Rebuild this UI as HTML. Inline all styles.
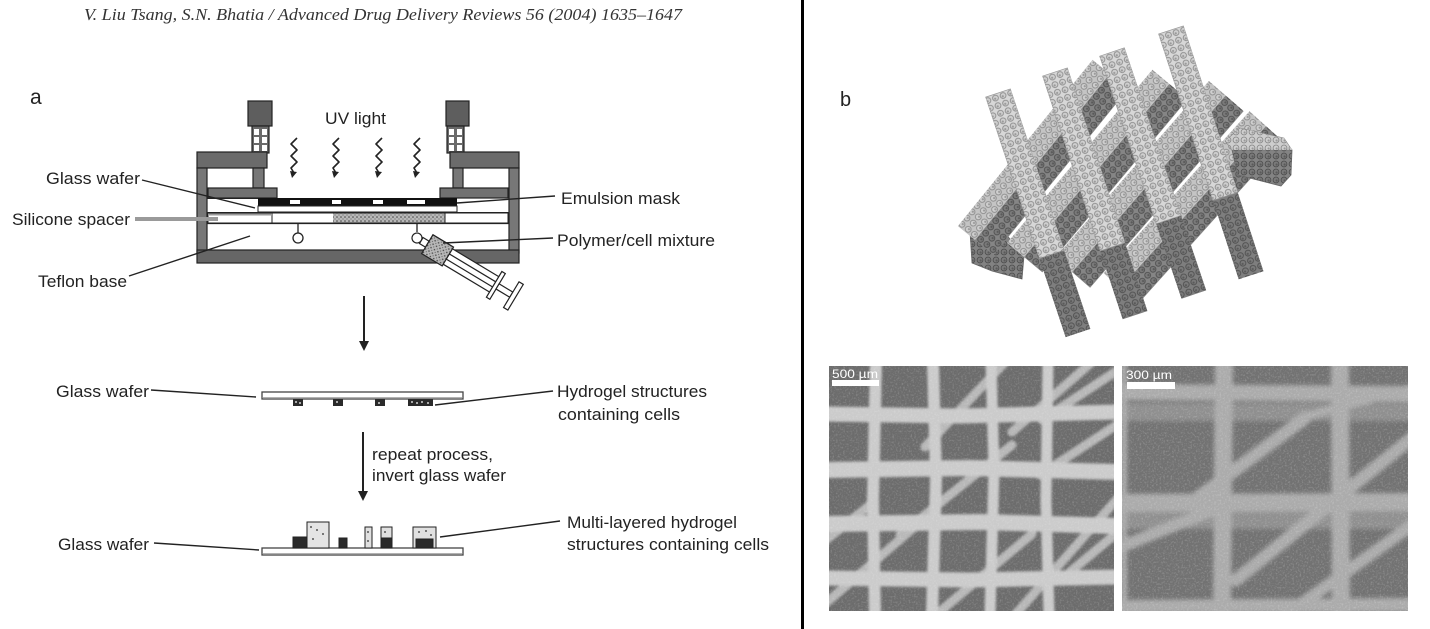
<!DOCTYPE html>
<html>
<head>
<meta charset="utf-8">
<style>
html,body{margin:0;padding:0;background:#fff;}
body{width:1430px;height:629px;overflow:hidden;}
svg{display:block;}
.lb{font-family:"Liberation Sans",Arial,sans-serif;font-size:17px;fill:#222;}
.hd{font-family:"Liberation Serif","Times New Roman",serif;font-style:italic;font-size:17px;fill:#333;}
</style>
</head>
<body>
<svg width="1430" height="629" viewBox="0 0 1430 629" xmlns="http://www.w3.org/2000/svg">
<defs>
  <pattern id="stip" width="4" height="4" patternUnits="userSpaceOnUse">
    <rect width="4" height="4" fill="#b8b8b8"/>
    <circle cx="1" cy="1" r="0.8" fill="#444"/>
    <circle cx="3" cy="3" r="0.6" fill="#666"/>
  </pattern>
  <pattern id="cl" width="8" height="8" patternUnits="userSpaceOnUse">
    <circle cx="4" cy="4" r="2.9" fill="#cfcfcf" stroke="#8a8a8a" stroke-width="0.9"/>
    <circle cx="4.6" cy="4.5" r="1.1" fill="#9a9a9a"/>
  </pattern>
  <pattern id="cd" width="8" height="8" patternUnits="userSpaceOnUse">
    <circle cx="4" cy="4" r="2.9" fill="#7a7a7a" stroke="#4e4e4e" stroke-width="0.9"/>
    <circle cx="4.6" cy="4.5" r="1.1" fill="#5a5a5a"/>
  </pattern>
  <filter id="nz" x="0" y="0" width="100%" height="100%">
    <feTurbulence type="fractalNoise" baseFrequency="0.55" numOctaves="2" seed="4"/>
    <feColorMatrix type="matrix" values="0 0 0 0 1  0 0 0 0 1  0 0 0 0 1  1.6 0 0 0 -0.75"/>
  </filter>
  <filter id="nz2" x="0" y="0" width="100%" height="100%">
    <feTurbulence type="fractalNoise" baseFrequency="0.4" numOctaves="2" seed="9"/>
    <feColorMatrix type="matrix" values="0 0 0 0 0.2  0 0 0 0 0.2  0 0 0 0 0.2  1.5 0 0 0 -0.8"/>
  </filter>
  <filter id="bl" x="-5%" y="-5%" width="110%" height="110%">
    <feGaussianBlur stdDeviation="1.2"/>
  </filter>
  <filter id="bl2" x="-5%" y="-5%" width="110%" height="110%">
    <feGaussianBlur stdDeviation="2"/>
  </filter>
  <clipPath id="c1"><rect x="829" y="366" width="285" height="245"/></clipPath>
  <clipPath id="c2"><rect x="1122" y="366" width="286" height="245"/></clipPath>
</defs>

<!-- header -->
<text class="hd" x="84" y="20" textLength="598" lengthAdjust="spacingAndGlyphs">V. Liu Tsang, S.N. Bhatia / Advanced Drug Delivery Reviews 56 (2004) 1635–1647</text>

<!-- divider -->
<rect x="801" y="0" width="3" height="629" fill="#000"/>

<!-- panel labels -->
<text x="30" y="104" font-family="Liberation Sans, Arial, sans-serif" font-size="21" fill="#222">a</text>
<text x="840" y="106" font-family="Liberation Sans, Arial, sans-serif" font-size="20" fill="#222">b</text>

<!-- ================= Apparatus ================= -->
<g stroke="#222" stroke-width="1.2">
  <rect x="248" y="101" width="24" height="25" fill="#5e5e5e"/>
  <rect x="446" y="101" width="23" height="25" fill="#5e5e5e"/>
  <rect x="252" y="126" width="17" height="27" fill="#6a6a6a"/>
  <rect x="447" y="126" width="17" height="27" fill="#6a6a6a"/>
</g>
<g fill="#fff">
  <rect x="254" y="129" width="5" height="6"/><rect x="262" y="129" width="5" height="6"/>
  <rect x="254" y="137" width="5" height="6"/><rect x="262" y="137" width="5" height="6"/>
  <rect x="254" y="145" width="5" height="6"/><rect x="262" y="145" width="5" height="6"/>
  <rect x="449" y="129" width="5" height="6"/><rect x="457" y="129" width="5" height="6"/>
  <rect x="449" y="137" width="5" height="6"/><rect x="457" y="137" width="5" height="6"/>
  <rect x="449" y="145" width="5" height="6"/><rect x="457" y="145" width="5" height="6"/>
</g>
<g stroke="#222" stroke-width="1.2">
  <rect x="197" y="152" width="70" height="16" fill="#6b6b6b"/>
  <rect x="450" y="152" width="69" height="16" fill="#6b6b6b"/>
  <rect x="197" y="168" width="10" height="85" fill="#777"/>
  <rect x="509" y="168" width="10" height="85" fill="#777"/>
  <rect x="253" y="168" width="11" height="20" fill="#777"/>
  <rect x="453" y="168" width="10" height="20" fill="#777"/>
  <rect x="208" y="188" width="69" height="10" fill="#717171"/>
  <rect x="440" y="188" width="68" height="10" fill="#717171"/>
  <rect x="197" y="250" width="322" height="13" fill="#666"/>
</g>
<line x1="207" y1="212.5" x2="509" y2="212.5" stroke="#222" stroke-width="1"/>
<line x1="207" y1="223.5" x2="509" y2="223.5" stroke="#222" stroke-width="1.2"/>
<line x1="207" y1="198.5" x2="258" y2="198.5" stroke="#222" stroke-width="1"/>
<rect x="258" y="198" width="199" height="8" fill="#111"/>
<g fill="#fff">
  <rect x="290" y="200" width="10" height="4"/>
  <rect x="332" y="200" width="9" height="4"/>
  <rect x="373" y="200" width="10" height="4"/>
  <rect x="407" y="200" width="18" height="4"/>
</g>
<rect x="258" y="206" width="199" height="6" fill="#fff" stroke="#222" stroke-width="1"/>
<rect x="208" y="213" width="300" height="10" fill="#fff" stroke="#222" stroke-width="1"/>
<rect x="333" y="213.5" width="112" height="9" fill="url(#stip)"/>
<line x1="272" y1="213" x2="272" y2="223" stroke="#222" stroke-width="1"/>
<line x1="445" y1="213" x2="445" y2="223" stroke="#222" stroke-width="1"/>
<line x1="135" y1="219" x2="218" y2="219" stroke="#9a9a9a" stroke-width="4"/>
<line x1="208" y1="214.5" x2="272" y2="214.5" stroke="#9a9a9a" stroke-width="2"/>
<g stroke="#222" stroke-width="1.3" fill="#fff">
  <line x1="298" y1="223" x2="298" y2="233"/>
  <circle cx="298" cy="238" r="5"/>
  <line x1="417" y1="223" x2="417" y2="232"/>
</g>
<g fill="none" stroke="#222" stroke-width="1.6" stroke-linejoin="round">
  <path d="M297 138 L291 144 L297 150 L291 156 L297 162 L291 168 L294 173"/>
  <path d="M339 138 L333 144 L339 150 L333 156 L339 162 L333 168 L336 173"/>
  <path d="M382 138 L376 144 L382 150 L376 156 L382 162 L376 168 L379 173"/>
  <path d="M420 138 L414 144 L420 150 L414 156 L420 162 L414 168 L417 173"/>
</g>
<g fill="#222">
  <polygon points="290,171 297,172 292,178"/>
  <polygon points="332,171 339,172 334,178"/>
  <polygon points="375,171 382,172 377,178"/>
  <polygon points="413,171 420,172 415,178"/>
</g>
<text class="lb" x="325" y="124" textLength="61" lengthAdjust="spacingAndGlyphs">UV light</text>

<!-- syringe -->
<g transform="translate(417,238) rotate(31)" stroke="#222" stroke-width="1.2">
  <circle cx="0" cy="0" r="5" fill="#fff"/>
  <rect x="5" y="-3.5" width="7" height="7" fill="#fff"/>
  <rect x="12" y="-11" width="24" height="22" fill="url(#stip)"/>
  <rect x="36" y="-9" width="56" height="18" fill="#fff"/>
  <line x1="36" y1="-3" x2="92" y2="-3"/>
  <line x1="36" y1="3" x2="92" y2="3"/>
  <rect x="90" y="-15" width="4" height="30" fill="#fff"/>
  <rect x="94" y="-3" width="16" height="6" fill="#fff"/>
  <rect x="110" y="-15" width="5" height="30" fill="#fff"/>
</g>

<g stroke="#222" stroke-width="1.4">
  <line x1="142" y1="180" x2="255" y2="208"/>
  <line x1="129" y1="276" x2="250" y2="236"/>
  <line x1="457" y1="203" x2="555" y2="196"/>
  <line x1="443" y1="243" x2="553" y2="238"/>
</g>
<text class="lb" x="46" y="184" textLength="94" lengthAdjust="spacingAndGlyphs">Glass wafer</text>
<text class="lb" x="12" y="225" textLength="118" lengthAdjust="spacingAndGlyphs">Silicone spacer</text>
<text class="lb" x="38" y="287" textLength="89" lengthAdjust="spacingAndGlyphs">Teflon base</text>
<text class="lb" x="561" y="204" textLength="119" lengthAdjust="spacingAndGlyphs">Emulsion mask</text>
<text class="lb" x="557" y="246" textLength="158" lengthAdjust="spacingAndGlyphs">Polymer/cell mixture</text>

<line x1="364" y1="296" x2="364" y2="342" stroke="#222" stroke-width="2"/>
<polygon points="359,341 369,341 364,351" fill="#222"/>

<rect x="262" y="392" width="201" height="7" fill="#fff" stroke="#444" stroke-width="1.3"/>
<line x1="263" y1="398" x2="462" y2="398" stroke="#999" stroke-width="1.5"/>
<g fill="#2a2a2a">
  <rect x="293" y="399" width="10" height="7"/>
  <rect x="333" y="399" width="10" height="7"/>
  <rect x="375" y="399" width="10" height="7"/>
  <rect x="408" y="399" width="25" height="7"/>
</g>
<g fill="#aaa">
  <rect x="295" y="401" width="2" height="2"/><rect x="299" y="402" width="2" height="2"/>
  <rect x="336" y="401" width="2" height="2"/><rect x="378" y="402" width="2" height="2"/>
  <rect x="411" y="401" width="2" height="2"/><rect x="416" y="402" width="2" height="2"/>
  <rect x="421" y="401" width="2" height="2"/><rect x="427" y="402" width="2" height="2"/>
</g>
<g stroke="#222" stroke-width="1.4">
  <line x1="151" y1="390" x2="256" y2="397"/>
  <line x1="435" y1="405" x2="553" y2="391"/>
</g>
<text class="lb" x="56" y="397" textLength="93" lengthAdjust="spacingAndGlyphs">Glass wafer</text>
<text class="lb" x="557" y="397" textLength="150" lengthAdjust="spacingAndGlyphs">Hydrogel structures</text>
<text class="lb" x="558" y="420" textLength="122" lengthAdjust="spacingAndGlyphs">containing cells</text>

<line x1="363" y1="432" x2="363" y2="492" stroke="#222" stroke-width="2"/>
<polygon points="358,491 368,491 363,501" fill="#222"/>
<text class="lb" x="372" y="460" textLength="121" lengthAdjust="spacingAndGlyphs">repeat process,</text>
<text class="lb" x="372" y="481" textLength="134" lengthAdjust="spacingAndGlyphs">invert glass wafer</text>

<rect x="262" y="548" width="201" height="7" fill="#fff" stroke="#444" stroke-width="1.3"/>
<line x1="263" y1="554" x2="462" y2="554" stroke="#999" stroke-width="1.5"/>
<g stroke="#222" stroke-width="1">
  <rect x="293" y="537" width="19" height="11" fill="#2a2a2a"/>
  <rect x="307" y="522" width="22" height="26" fill="#e4e4e4"/>
  <rect x="339" y="538" width="8" height="10" fill="#2a2a2a"/>
  <rect x="365" y="527" width="7" height="21" fill="#e0e0e0"/>
  <rect x="381" y="527" width="11" height="21" fill="#e0e0e0"/>
  <rect x="381" y="538" width="11" height="10" fill="#2a2a2a"/>
  <rect x="413" y="527" width="23" height="21" fill="#e0e0e0"/>
  <rect x="416" y="539" width="17" height="9" fill="#2a2a2a"/>
</g>
<g fill="#777">
  <rect x="310" y="526" width="2" height="2"/><rect x="316" y="529" width="2" height="2"/>
  <rect x="322" y="533" width="2" height="2"/><rect x="312" y="538" width="2" height="2"/>
  <rect x="418" y="531" width="2" height="2"/><rect x="425" y="530" width="2" height="2"/>
  <rect x="430" y="534" width="2" height="2"/><rect x="367" y="531" width="2" height="2"/>
  <rect x="367" y="540" width="2" height="2"/><rect x="384" y="531" width="2" height="2"/>
</g>
<g stroke="#222" stroke-width="1.4">
  <line x1="154" y1="543" x2="259" y2="550"/>
  <line x1="440" y1="537" x2="560" y2="521"/>
</g>
<text class="lb" x="58" y="550" textLength="91" lengthAdjust="spacingAndGlyphs">Glass wafer</text>
<text class="lb" x="567" y="528" textLength="170" lengthAdjust="spacingAndGlyphs">Multi-layered hydrogel</text>
<text class="lb" x="567" y="550" textLength="202" lengthAdjust="spacingAndGlyphs">structures containing cells</text>

<!-- ================= 3D lattice ================= -->
<polygon points="970,232 995,221 1024,256 1022,279 992,271 972,263" fill="#828282" stroke="#666" stroke-width="0.8"/>
<polygon points="970,232 995,221 1024,256 1022,279 992,271 972,263" fill="url(#cd)"/>
<polygon points="969,232 992,218 1003,226 978,240" fill="#cdcdcd" stroke="#888" stroke-width="0.6"/>

<g transform="translate(975,240) rotate(-51)">
  <rect x="0" y="0" width="214" height="24" fill="#858585"/><rect x="0" y="0" width="214" height="24" fill="url(#cd)"/>
  <rect x="0" y="-22" width="214" height="22" fill="#c4c4c4"/><rect x="0" y="-22" width="214" height="22" fill="url(#cl)"/>
</g>
<g transform="translate(1024,257) rotate(-50)">
  <rect x="0" y="0" width="226" height="24" fill="#858585"/><rect x="0" y="0" width="226" height="24" fill="url(#cd)"/>
  <rect x="0" y="-22" width="226" height="22" fill="#c4c4c4"/><rect x="0" y="-22" width="226" height="22" fill="url(#cl)"/>
</g>
<g transform="translate(1072,272) rotate(-49)">
  <rect x="0" y="0" width="234" height="24" fill="#858585"/><rect x="0" y="0" width="234" height="24" fill="url(#cd)"/>
  <rect x="0" y="-22" width="234" height="22" fill="#c4c4c4"/><rect x="0" y="-22" width="234" height="22" fill="url(#cl)"/>
</g>
<g transform="translate(1120,288) rotate(-48)">
  <rect x="0" y="0" width="218" height="24" fill="#858585"/><rect x="0" y="0" width="218" height="24" fill="url(#cd)"/>
  <rect x="0" y="-22" width="218" height="22" fill="#c4c4c4"/><rect x="0" y="-22" width="218" height="22" fill="url(#cl)"/>
</g>
<polygon points="1232,150 1292,150 1291,175 1281,186 1238,175" fill="#838383" stroke="#666" stroke-width="0.8"/>
<polygon points="1232,150 1292,150 1291,175 1281,186 1238,175" fill="url(#cd)"/>
<polygon points="1225,141 1240,128 1284,138 1292,150 1232,150" fill="#cdcdcd" stroke="#888" stroke-width="0.6"/>
<polygon points="1225,141 1240,128 1284,138 1292,150 1232,150" fill="url(#cl)"/>

<g transform="translate(998,93) rotate(71.57)">
  <rect x="0" y="-13" width="253" height="26" fill="#7e7e7e"/><rect x="170" y="-13" width="83" height="26" fill="url(#cd)"/>
  <rect x="0" y="-13" width="170" height="26" fill="#d7d7d7" stroke="#999" stroke-width="0.7"/><rect x="0" y="-13" width="170" height="26" fill="url(#cl)"/>
</g>
<g transform="translate(1055,72) rotate(71.77)">
  <rect x="0" y="-13" width="256" height="26" fill="#7e7e7e"/><rect x="184" y="-13" width="72" height="26" fill="url(#cd)"/>
  <rect x="0" y="-13" width="184" height="26" fill="#d7d7d7" stroke="#999" stroke-width="0.7"/><rect x="0" y="-13" width="184" height="26" fill="url(#cl)"/>
</g>
<g transform="translate(1112,52) rotate(71.35)">
  <rect x="0" y="-13" width="256" height="26" fill="#7e7e7e"/><rect x="177" y="-13" width="79" height="26" fill="url(#cd)"/>
  <rect x="0" y="-13" width="177" height="26" fill="#d7d7d7" stroke="#999" stroke-width="0.7"/><rect x="0" y="-13" width="177" height="26" fill="url(#cl)"/>
</g>
<g transform="translate(1171,30) rotate(71.92)">
  <rect x="0" y="-13" width="258" height="26" fill="#7e7e7e"/><rect x="175" y="-13" width="83" height="26" fill="url(#cd)"/>
  <rect x="0" y="-13" width="175" height="26" fill="#d7d7d7" stroke="#999" stroke-width="0.7"/><rect x="0" y="-13" width="175" height="26" fill="url(#cl)"/>
</g>

<!-- ================= SEM left ================= -->
<g clip-path="url(#c1)">
  <rect x="829" y="366" width="285" height="245" fill="#6c6c6c"/>
  <rect x="829" y="366" width="285" height="245" fill="#fff" filter="url(#nz2)" opacity="0.4"/>
  <g filter="url(#bl)" stroke-linecap="round" fill="none">
    <g stroke="#b8b8b8" stroke-width="9">
      <line x1="925" y1="447" x2="1007" y2="360"/>
      <line x1="1012" y1="432" x2="1092" y2="362"/>
      <line x1="1042" y1="420" x2="1118" y2="370"/>
      <line x1="1040" y1="475" x2="1118" y2="424"/>
      <line x1="900" y1="535" x2="1012" y2="445"/>
      <line x1="826" y1="603" x2="932" y2="512"/>
      <line x1="936" y1="615" x2="1032" y2="534"/>
      <line x1="1015" y1="615" x2="1118" y2="498"/>
      <line x1="1070" y1="572" x2="1118" y2="532"/>
      <line x1="826" y1="540" x2="870" y2="505"/>
    </g>
    <g stroke="#cbcbcb">
      <path d="M876 362 L873 500 L875 615" stroke-width="12"/>
      <path d="M933 362 L936 480 L932 615" stroke-width="12"/>
      <path d="M991 362 L994 470 L990 615" stroke-width="11"/>
      <path d="M1048 362 L1046 500 L1049 615" stroke-width="11"/>
      <path d="M825 414 L960 416 L1118 412" stroke-width="15"/>
      <path d="M825 470 L970 468 L1118 472" stroke-width="16"/>
      <path d="M825 524 L980 522 L1118 526" stroke-width="16"/>
      <path d="M825 578 L970 580 L1118 577" stroke-width="15"/>
    </g>
  </g>
  <rect x="829" y="366" width="285" height="245" fill="#fff" filter="url(#nz)" opacity="0.3"/>
  <rect x="832" y="380" width="47" height="6" fill="#fff"/>
  <text x="832" y="378" font-family="Liberation Sans, Arial, sans-serif" font-size="12" fill="#fff" textLength="46" lengthAdjust="spacingAndGlyphs">500 µm</text>
</g>

<!-- ================= SEM right ================= -->
<g clip-path="url(#c2)">
  <rect x="1122" y="366" width="286" height="245" fill="#727272"/>
  <g filter="url(#bl2)" stroke-linecap="round" fill="none">
    <g stroke="#8f8f8f">
      <line x1="1118" y1="412" x2="1412" y2="412" stroke-width="18"/>
      <line x1="1118" y1="520" x2="1412" y2="520" stroke-width="18"/>
    </g>
    <g stroke="#ababab">
      <line x1="1118" y1="392" x2="1412" y2="394" stroke-width="16"/>
      <line x1="1118" y1="503" x2="1412" y2="502" stroke-width="18"/>
      <line x1="1118" y1="607" x2="1412" y2="605" stroke-width="14"/>
      <line x1="1224" y1="362" x2="1222" y2="615" stroke-width="18"/>
      <line x1="1340" y1="362" x2="1341" y2="615" stroke-width="18"/>
      <line x1="1124" y1="362" x2="1124" y2="615" stroke-width="6"/>
      <line x1="1188" y1="505" x2="1305" y2="418" stroke-width="13"/>
      <line x1="1236" y1="580" x2="1412" y2="438" stroke-width="13"/>
      <line x1="1118" y1="548" x2="1226" y2="505" stroke-width="12"/>
      <line x1="1286" y1="615" x2="1412" y2="525" stroke-width="12"/>
      <line x1="1300" y1="418" x2="1412" y2="388" stroke-width="8"/>
    </g>
  </g>
  <rect x="1122" y="366" width="286" height="245" fill="#fff" filter="url(#nz)" opacity="0.35"/>
  <rect x="1127" y="382" width="48" height="7" fill="#fff"/>
  <text x="1126" y="379" font-family="Liberation Sans, Arial, sans-serif" font-size="12" fill="#fff" textLength="46" lengthAdjust="spacingAndGlyphs">300 µm</text>
</g>
</svg>
</body>
</html>
